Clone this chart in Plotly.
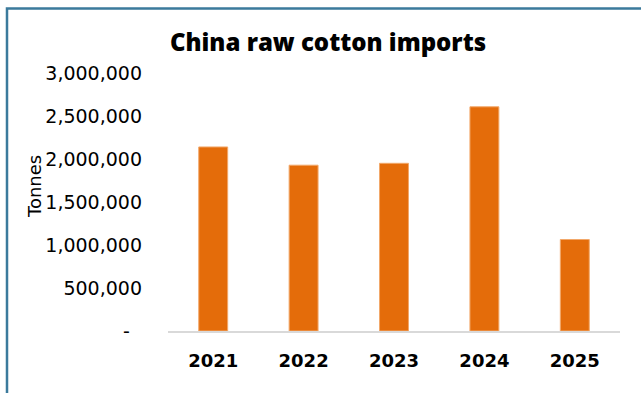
import plotly.graph_objects as go

# China raw cotton imports by year (tonnes)
years = ["2021", "2022", "2023", "2024", "2025"]
imports_tonnes = [2140000, 1928000, 1950000, 2607000, 1064000]

tick_values = [0, 500000, 1000000, 1500000, 2000000, 2500000, 3000000]
tick_labels = ["-\u00a0\u00a0", "500,000", "1,000,000", "1,500,000",
               "2,000,000", "2,500,000", "3,000,000"]

W, H = 641, 393
ML, MR, MT, MB = 168, 21, 73, 62
plot_w = W - ML - MR
plot_h = H - MT - MB


def px_to_paper_x(px):
    return (px - ML) / plot_w


def px_to_paper_y(py):
    return (H - MB - py) / plot_h


fig = go.Figure(
    go.Bar(
        x=years,
        y=imports_tonnes,
        marker=dict(color="#e46c0a", line=dict(color="#f2a86a", width=1)),
    )
)

fig.update_layout(
    width=W,
    height=H,
    margin=dict(l=ML, r=MR, t=MT, b=MB),
    paper_bgcolor="white",
    plot_bgcolor="white",
    bargap=0.68,
    showlegend=False,
    title=dict(
        text="China raw cotton imports",
        x=328 / W,
        xanchor="center",
        y=1 - 43 / H,
        yanchor="middle",
        font=dict(family="Open Sans", size=24, color="black", weight=800),
    ),
    font=dict(family="DejaVu Sans", color="black"),
)

fig.update_xaxes(
    showgrid=False,
    showline=True,
    linecolor="#d9d9d9",
    linewidth=2,
    ticks="",
    ticklabelstandoff=12,
    tickfont=dict(family="DejaVu Sans", size=18, color="black", weight="bold"),
)

fig.update_yaxes(
    range=[0, 3000000],
    tickvals=tick_values,
    ticktext=tick_labels,
    showgrid=False,
    zeroline=False,
    showline=False,
    ticks="",
    ticklabelstandoff=25,
    tickfont=dict(family="DejaVu Sans", size=19, color="black"),
)

# Y-axis caption
fig.add_annotation(
    text="Tonnes",
    textangle=-90,
    xref="paper",
    yref="paper",
    x=px_to_paper_x(34),
    y=px_to_paper_y(187),
    xanchor="center",
    yanchor="middle",
    showarrow=False,
    font=dict(family="DejaVu Sans", size=18, color="black"),
)

# Frame around the chart
fig.add_shape(
    type="rect",
    xref="paper",
    yref="paper",
    x0=px_to_paper_x(7),
    x1=px_to_paper_x(700),
    y0=px_to_paper_y(450),
    y1=px_to_paper_y(8.5),
    line=dict(color="#3b7a9c", width=2.5),
    fillcolor="rgba(0,0,0,0)",
    layer="above",
)

fig.write_html("out.html")
